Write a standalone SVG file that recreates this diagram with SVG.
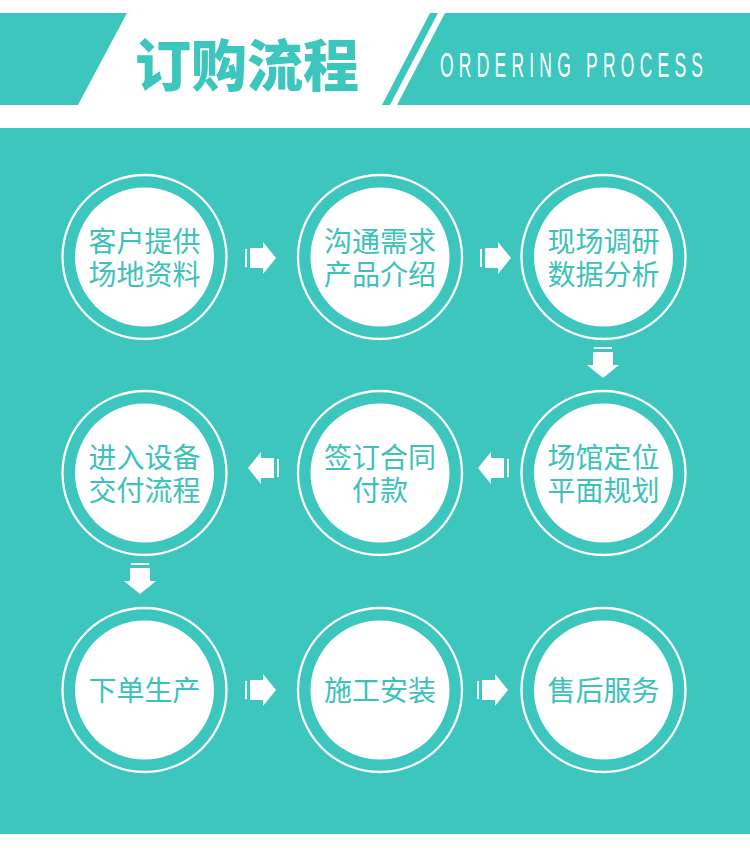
<svg xmlns="http://www.w3.org/2000/svg" xmlns:xlink="http://www.w3.org/1999/xlink" width="750" height="866" viewBox="0 0 750 866">
  <style>
    .teal { fill: #3dc6bd; }
    .ring { fill: none; stroke: #ffffff; stroke-width: 2.3; }
    .disc { fill: #ffffff; }
    .label { font-family: "Noto Sans CJK SC", "Noto Sans", sans-serif; font-size: 28px; font-weight: 400; fill: #3cc2b9; text-anchor: middle; }
    .title { font-family: "Noto Sans CJK SC", sans-serif; font-size: 56px; font-weight: 900; fill: #3dc6bd; text-anchor: middle; }
    .sub { font-family: "Liberation Sans", Arial, sans-serif; font-size: 35px; fill: #ffffff; }
    .arr { fill: #ffffff; }
  </style>
  <defs>
    <g id="arrow" class="arr">
      <rect x="0" y="-9" width="2" height="18"/>
      <rect x="5" y="-10" width="13.5" height="20"/>
      <polygon points="18,-16 31,0 18,16"/>
    </g>
  </defs>

  <rect x="0" y="0" width="750" height="866" fill="#ffffff"/>

  <g id="header">
    <polygon class="teal" points="0,13 127,13 78,105 0,105"/>
    <polygon class="teal" points="430,13 438,13 390,105 382,105"/>
    <polygon class="teal" points="445,13 750,13 750,105 397,105"/>
    <text class="title" x="247" y="86">订购流程</text>
    <text class="sub" transform="translate(440,77) scale(0.5,1)" x="0" y="0" textLength="526" lengthAdjust="spacing">ORDERING PROCESS</text>
  </g>

  <rect id="panel" class="teal" x="0" y="128" width="750" height="706"/>

  <g id="connectors">
    <use xlink:href="#arrow" transform="translate(245,258)"/>
    <use xlink:href="#arrow" transform="translate(480,258)"/>
    <use xlink:href="#arrow" transform="translate(603,347) rotate(90)"/>
    <use xlink:href="#arrow" transform="translate(509,468) rotate(180)"/>
    <use xlink:href="#arrow" transform="translate(279,468) rotate(180)"/>
    <use xlink:href="#arrow" transform="translate(140,563) rotate(90)"/>
    <use xlink:href="#arrow" transform="translate(245,690)"/>
    <use xlink:href="#arrow" transform="translate(477,690)"/>
  </g>

  <g id="n1">
    <circle class="ring" cx="144.5" cy="257" r="82"/>
    <circle class="disc" cx="144.5" cy="257" r="69.5"/>
    <text class="label" x="144.5" y="251.5">客户提供</text>
    <text class="label" x="144.5" y="284.5">场地资料</text>
  </g>
  <g id="n2">
    <circle class="ring" cx="380" cy="257" r="82"/>
    <circle class="disc" cx="380" cy="257" r="69.5"/>
    <text class="label" x="380" y="251.5">沟通需求</text>
    <text class="label" x="380" y="284.5">产品介绍</text>
  </g>
  <g id="n3">
    <circle class="ring" cx="603.5" cy="257" r="82"/>
    <circle class="disc" cx="603.5" cy="257" r="69.5"/>
    <text class="label" x="603.5" y="251.5">现场调研</text>
    <text class="label" x="603.5" y="284.5">数据分析</text>
  </g>
  <g id="n4">
    <circle class="ring" cx="603.5" cy="473" r="82"/>
    <circle class="disc" cx="603.5" cy="473" r="69.5"/>
    <text class="label" x="603.5" y="467.5">场馆定位</text>
    <text class="label" x="603.5" y="500.5">平面规划</text>
  </g>
  <g id="n5">
    <circle class="ring" cx="380" cy="473" r="82"/>
    <circle class="disc" cx="380" cy="473" r="69.5"/>
    <text class="label" x="380" y="467.5">签订合同</text>
    <text class="label" x="380" y="500.5">付款</text>
  </g>
  <g id="n6">
    <circle class="ring" cx="144.5" cy="473" r="82"/>
    <circle class="disc" cx="144.5" cy="473" r="69.5"/>
    <text class="label" x="144.5" y="467.5">进入设备</text>
    <text class="label" x="144.5" y="500.5">交付流程</text>
  </g>
  <g id="n7">
    <circle class="ring" cx="144.5" cy="690" r="82"/>
    <circle class="disc" cx="144.5" cy="690" r="69.5"/>
    <text class="label" x="144.5" y="700.5">下单生产</text>
  </g>
  <g id="n8">
    <circle class="ring" cx="380" cy="690" r="82"/>
    <circle class="disc" cx="380" cy="690" r="69.5"/>
    <text class="label" x="380" y="700.5">施工安装</text>
  </g>
  <g id="n9">
    <circle class="ring" cx="603.5" cy="690" r="82"/>
    <circle class="disc" cx="603.5" cy="690" r="69.5"/>
    <text class="label" x="603.5" y="700.5">售后服务</text>
  </g>
</svg>
